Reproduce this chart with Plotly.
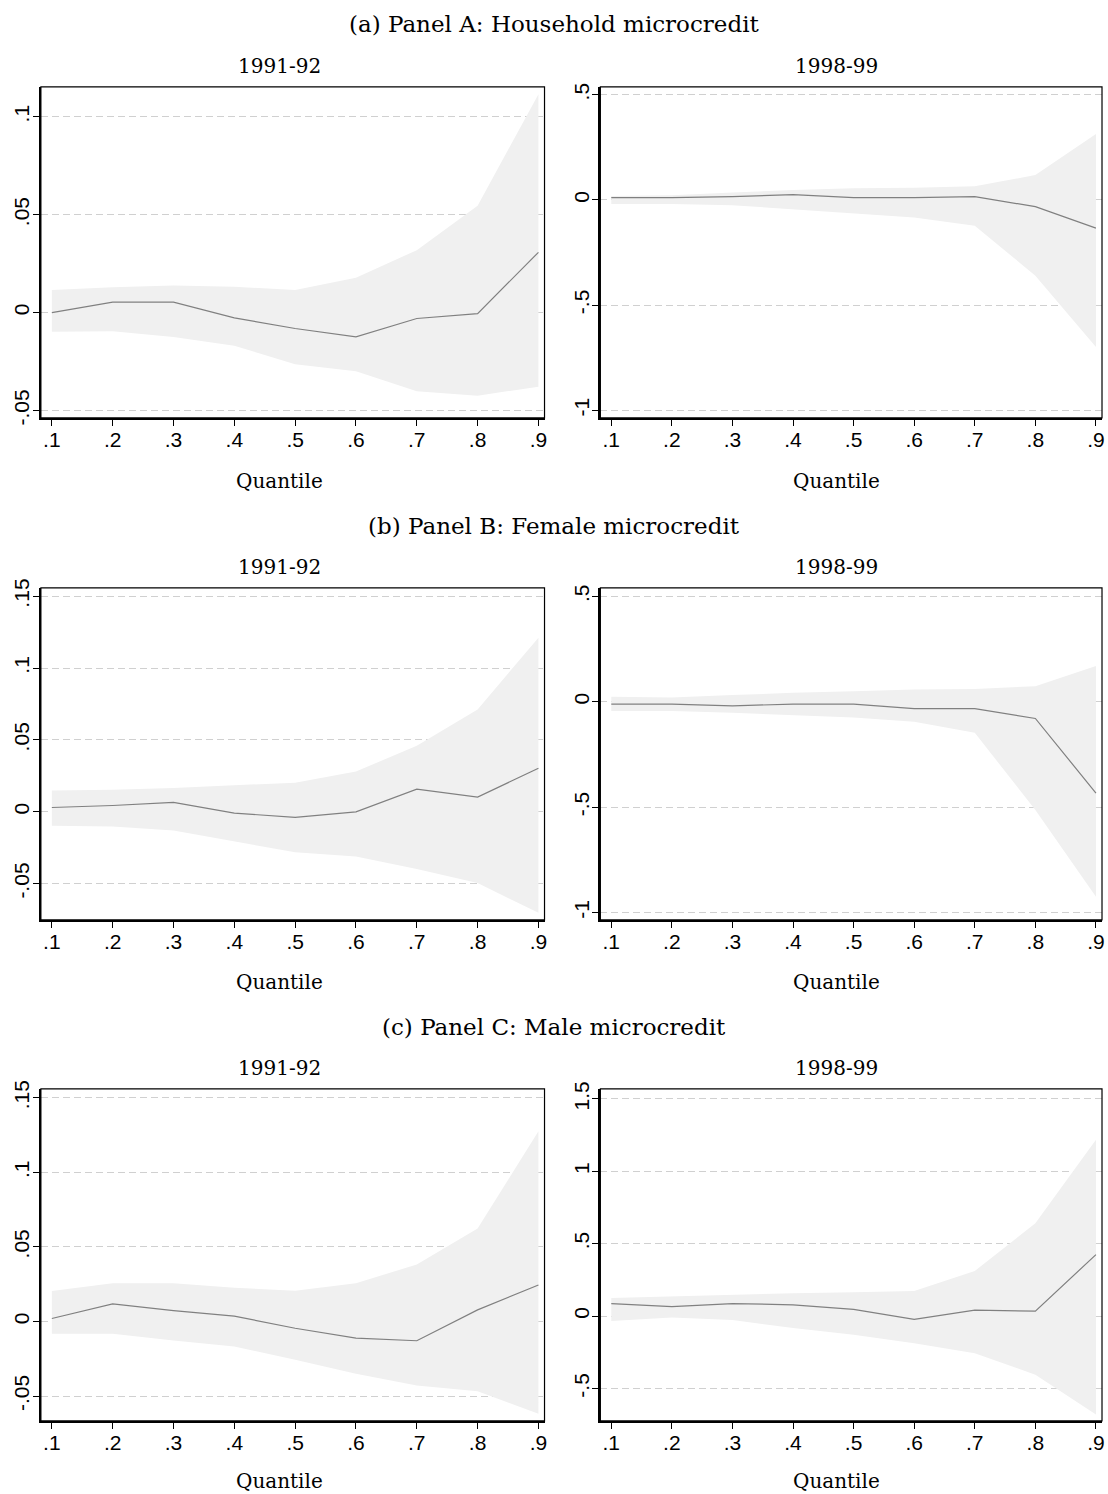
import plotly.graph_objects as go

# Quantiles at which the treatment effects were estimated
quantiles = [0.1, 0.2, 0.3, 0.4, 0.5, 0.6, 0.7, 0.8, 0.9]
x_tick_labels = [".1", ".2", ".3", ".4", ".5", ".6", ".7", ".8", ".9"]

# Panel A: Household microcredit
a91_coef = [0.0, 0.0054, 0.0054, -0.0027, -0.0081, -0.0124, -0.003, -0.0005, 0.0308]
a91_upper = [0.0115, 0.0129, 0.0139, 0.0132, 0.0115, 0.0178, 0.0319, 0.0546, 0.1115]
a91_lower = [-0.0098, -0.0095, -0.0124, -0.0169, -0.0264, -0.030, -0.0402, -0.0424, -0.0378]

a98_coef = [0.011, 0.011, 0.016, 0.025, 0.011, 0.011, 0.016, -0.032, -0.134]
a98_upper = [0.019, 0.022, 0.035, 0.047, 0.055, 0.058, 0.065, 0.118, 0.314]
a98_lower = [-0.019, -0.019, -0.025, -0.044, -0.062, -0.084, -0.123, -0.36, -0.699]

# Panel B: Female microcredit
b91_coef = [0.003, 0.0044, 0.0065, -0.0009, -0.0039, 0.0, 0.0157, 0.0102, 0.0303]
b91_upper = [0.0148, 0.0153, 0.0166, 0.0183, 0.0203, 0.028, 0.046, 0.0712, 0.1211]
b91_lower = [-0.0097, -0.0102, -0.013, -0.0206, -0.0282, -0.031, -0.0398, -0.0495, -0.0703]

b98_coef = [-0.011, -0.011, -0.019, -0.011, -0.011, -0.032, -0.032, -0.079, -0.433]
b98_upper = [0.024, 0.020, 0.032, 0.043, 0.050, 0.058, 0.061, 0.074, 0.170]
b98_lower = [-0.043, -0.043, -0.052, -0.063, -0.074, -0.095, -0.147, -0.513, -0.925]

# Panel C: Male microcredit
c91_coef = [0.002, 0.0118, 0.0073, 0.0036, -0.0045, -0.0111, -0.0129, 0.0078, 0.0245]
c91_upper = [0.0205, 0.0256, 0.0256, 0.0227, 0.0207, 0.0256, 0.0383, 0.0624, 0.1276]
c91_lower = [-0.0082, -0.0082, -0.0127, -0.0167, -0.0256, -0.035, -0.043, -0.0468, -0.0619]

c98_coef = [0.087, 0.066, 0.087, 0.078, 0.046, -0.023, 0.041, 0.034, 0.425]
c98_upper = [0.126, 0.137, 0.149, 0.158, 0.165, 0.174, 0.311, 0.642, 1.218]
c98_lower = [-0.034, -0.009, -0.027, -0.082, -0.128, -0.187, -0.256, -0.405, -0.679]

panel_titles = ["(a) Panel A: Household microcredit",
                "(b) Panel B: Female microcredit",
                "(c) Panel C: Male microcredit"]
period_titles = ["1991-92", "1998-99"]
x_title = "Quantile"

# y ticks per subplot
yt_a91 = ([-0.05, 0, 0.05, 0.1], ["-.05", "0", ".05", ".1"])
yt_a98 = ([-1, -0.5, 0, 0.5], ["-1", "-.5", "0", ".5"])
yt_b91 = ([-0.05, 0, 0.05, 0.1, 0.15], ["-.05", "0", ".05", ".1", ".15"])
yt_b98 = ([-1, -0.5, 0, 0.5], ["-1", "-.5", "0", ".5"])
yt_c91 = ([-0.05, 0, 0.05, 0.1, 0.15], ["-.05", "0", ".05", ".1", ".15"])
yt_c98 = ([-0.5, 0, 0.5, 1, 1.5], ["-.5", "0", ".5", "1", "1.5"])

W, H = 1108, 1494

panels = [
    # (coef, upper, lower, yticks, yrange, row, col)
    (a91_coef, a91_upper, a91_lower, yt_a91, [-0.0537, 0.1153], 0, 0),
    (a98_coef, a98_upper, a98_lower, yt_a98, [-1.036, 0.538], 0, 1),
    (b91_coef, b91_upper, b91_lower, yt_b91, [-0.0752, 0.1558], 1, 0),
    (b98_coef, b98_upper, b98_lower, yt_b98, [-1.035, 0.541], 1, 1),
    (c91_coef, c91_upper, c91_lower, yt_c91, [-0.0667, 0.1560], 2, 0),
    (c98_coef, c98_upper, c98_lower, yt_c98, [-0.724, 1.569], 2, 1),
]

# pixel layout (figure coordinates)
col_px = [(41, 546), (602, 1105)]
col_text_x = [280, 839]
row_px = [(78.7, 413.5), (585.5, 921.4), (1092.4, 1428.2)]
row_title_y = [15.0, 522.8, 1029.6]
row_sub_y = [57.5, 564.3, 1071.1]
row_xtitle_y = [477.0, 984.0, 1489.0]

SERIF = "DejaVu Serif"
SANS = "Liberation Sans"

fig = go.Figure()
layout = {}
shapes = []
annotations = []

for i, (coef, upper, lower, yt, yr, r, c) in enumerate(panels):
    n = i + 1
    xa = "x" if n == 1 else f"x{n}"
    ya = "y" if n == 1 else f"y{n}"
    # confidence band: lower bound, then upper bound filled down to it
    fig.add_trace(go.Scatter(x=quantiles, y=lower, mode="lines",
                             line=dict(width=0), hoverinfo="skip",
                             showlegend=False, xaxis=xa, yaxis=ya))
    fig.add_trace(go.Scatter(x=quantiles, y=upper, mode="lines",
                             line=dict(width=0), fill="tonexty",
                             fillcolor="#f0f0f0", hoverinfo="skip",
                             showlegend=False, xaxis=xa, yaxis=ya))
    # point estimates
    fig.add_trace(go.Scatter(x=quantiles, y=coef, mode="lines",
                             line=dict(color="#808080", width=1.2),
                             showlegend=False, xaxis=xa, yaxis=ya))

    x0, x1 = col_px[c]
    y0, y1 = row_px[r]
    xdom = [x0 / W, x1 / W]
    ydom = [1 - y1 / H, 1 - y0 / H]
    xkey = "xaxis" if n == 1 else f"xaxis{n}"
    ykey = "yaxis" if n == 1 else f"yaxis{n}"
    layout[xkey] = dict(
        domain=xdom, anchor=ya, range=[0.082, 0.91],
        tickvals=quantiles, ticktext=x_tick_labels,
        ticks="outside", ticklen=6, tickwidth=1.3, tickcolor="black",
        ticklabelstandoff=-4,
        showgrid=False, zeroline=False,
        showline=True, linecolor="black", linewidth=2,
        tickfont=dict(family=SANS, size=21, color="black"),
    )
    layout[ykey] = dict(
        domain=ydom, anchor=xa, range=yr,
        tickvals=yt[0], ticktext=yt[1], tickangle=-90,
        ticks="outside", ticklen=6, tickwidth=1.3, tickcolor="black",
        ticklabelstandoff=-5,
        showgrid=True, gridcolor="#d0d0d0", griddash="7px,4px", gridwidth=1,
        zeroline=False,
        showline=True, linecolor="black", linewidth=2,
        tickfont=dict(family=SANS, size=21, color="black"),
    )
    # thin frame around the plot region
    shapes.append(dict(type="rect", xref=f"{xa} domain", yref=f"{ya} domain",
                       x0=0, x1=1, y0=0, y1=1,
                       line=dict(color="black", width=1.2), layer="above"))
    # period title above each plot
    annotations.append(dict(text=period_titles[c], xref="paper", yref="paper",
                            x=col_text_x[c] / W, y=1 - row_sub_y[r] / H,
                            showarrow=False, xanchor="center", yanchor="middle",
                            font=dict(family=SERIF, size=20, color="black")))
    # x axis title
    annotations.append(dict(text=x_title, xref="paper", yref="paper",
                            x=col_text_x[c] / W, y=1 - row_xtitle_y[r] / H,
                            showarrow=False, xanchor="center", yanchor="middle",
                            font=dict(family=SERIF, size=20, color="black")))

for r in range(3):
    annotations.append(dict(text=panel_titles[r], xref="paper", yref="paper",
                            x=556 / W, y=1 - row_title_y[r] / H,
                            showarrow=False, xanchor="center", yanchor="middle",
                            font=dict(family=SERIF, size=23, color="black")))

fig.update_layout(
    width=W, height=H,
    margin=dict(l=0, r=0, t=0, b=0),
    paper_bgcolor="white", plot_bgcolor="white",
    shapes=shapes, annotations=annotations,
    **layout,
)

fig.write_html("out.html")
